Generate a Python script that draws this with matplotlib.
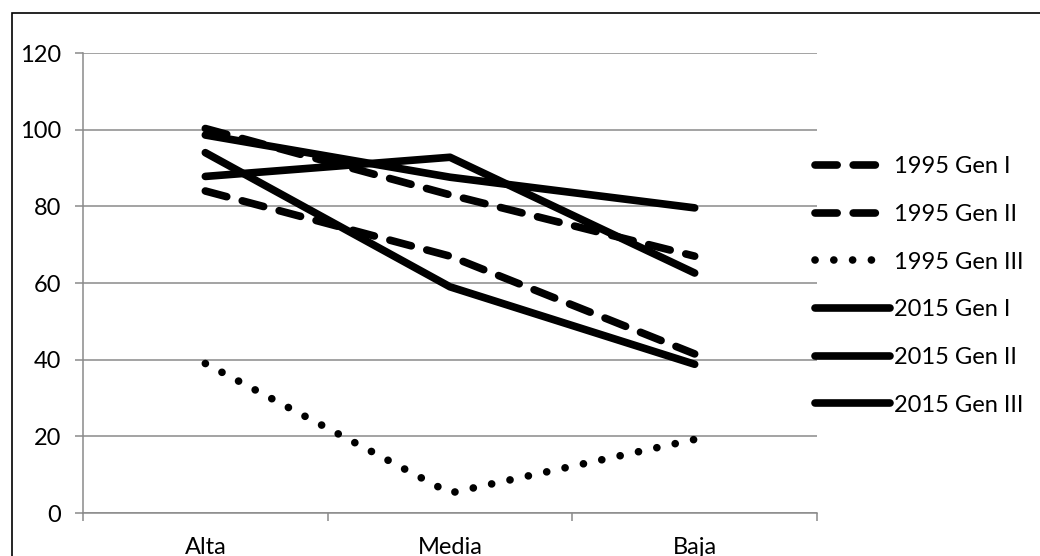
import matplotlib.pyplot as plt
from matplotlib.patches import Rectangle

categories = ["Alta", "Media", "Baja"]
labels = ["1995 Gen I", "1995 Gen II", "1995 Gen III",
          "2015 Gen I", "2015 Gen II", "2015 Gen III"]
gen1_1995 = [100.3, 83.0, 67.0]
gen2_1995 = [84.0, 67.0, 41.5]
gen3_1995 = [39.0, 5.2, 19.2]
gen1_2015 = [98.6, 87.6, 79.6]
gen2_2015 = [87.8, 92.8, 62.6]
gen3_2015 = [94.0, 59.0, 38.8]
y_ticks = [0, 20, 40, 60, 80, 100, 120]

plt.rcParams["font.family"] = ["Lato", "DejaVu Sans"]
plt.rcParams["font.size"] = 17

fig = plt.figure(figsize=(10.4, 5.56), dpi=100)
ax = fig.add_axes([83 / 1040, 43 / 556, 734 / 1040, 460 / 556])

x = list(range(len(categories)))
lw = 5.5
dashed = dict(linestyle=(0, (2.9, 2.1)), dash_capstyle="round")
dotted = dict(linestyle=(0, (0.01, 2.45)), dash_capstyle="round")
solid = dict(linestyle="-", solid_capstyle="round", solid_joinstyle="round")

series = [gen1_1995, gen2_1995, gen3_1995, gen1_2015, gen2_2015, gen3_2015]
styles = [dashed, dashed, dotted, solid, solid, solid]
for values, style, label in zip(series, styles, labels):
    ax.plot(x, values, color="black", linewidth=lw, label=label, zorder=3, **style)

grey = "#8a8a8a"
ax.set_xlim(-0.5, 2.5)
ax.set_ylim(0, 120)
ax.set_yticks(y_ticks)
ax.set_xticks(x)
ax.set_xticklabels(categories)
ax.set_xticks([-0.5, 0.5, 1.5, 2.5], minor=True)
ax.tick_params(axis="x", which="major", length=0, pad=17)
ax.tick_params(axis="x", which="minor", length=6, width=1.1, color=grey, direction="out")
ax.tick_params(axis="y", length=6, width=1.1, color=grey, pad=10)
ax.yaxis.grid(True, color=grey, linewidth=1.1)
ax.set_axisbelow(True)
for side in ["top", "right"]:
    ax.spines[side].set_visible(False)
for side in ["left", "bottom"]:
    ax.spines[side].set_color(grey)
    ax.spines[side].set_linewidth(1.1)

ax.legend(loc="center left", bbox_to_anchor=(0.997, 0.4935), frameon=False,
          borderpad=0, borderaxespad=0, handlelength=3.2, handletextpad=0.15,
          labelspacing=1.13)

fig.patches.append(Rectangle((12 / 1040, -0.1), 1.2, 0.1 + 543 / 556,
                             transform=fig.transFigure, fill=False,
                             edgecolor="black", linewidth=1.2))

fig.savefig("out.png", dpi=100)
